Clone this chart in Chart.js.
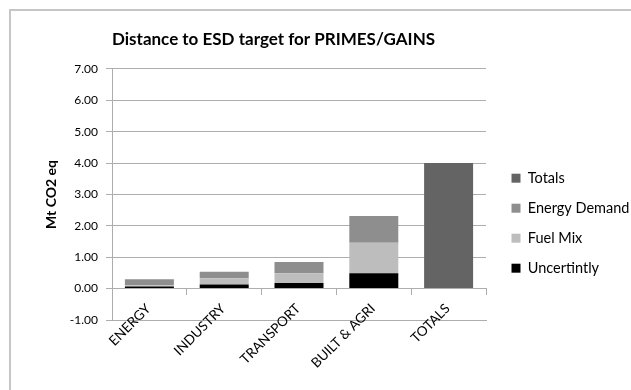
<!DOCTYPE html>
<html>
<head>
<meta charset="utf-8">
<script src="https://cdn.jsdelivr.net/npm/chart.js@4"></script>
<style>
  html, body { margin: 0; padding: 0; background: #fff; }
  #wrap { position: relative; width: 631px; height: 390px; overflow: hidden; }
  #frame { position: absolute; left: 9px; top: 9px; width: 660px; height: 420px;
           border: 2px solid #c6c6c6; box-sizing: border-box; }
  #c { position: absolute; left: 0; top: 0; }
</style>
</head>
<body>
<div id="wrap">
  <div id="frame"></div>
  <canvas id="c" width="631" height="390"></canvas>
</div>
<script>
// Sectors and their stacked contributions (Mt CO2 eq)
const categories   = ['ENERGY', 'INDUSTRY', 'TRANSPORT', 'BUILT & AGRI', 'TOTALS'];
const uncertintly  = [0.07, 0.13, 0.18, 0.49, null];
const fuelMix      = [0.04, 0.20, 0.31, 0.97, null];
const energyDemand = [0.19, 0.21, 0.36, 0.85, null];
const totals       = [null, null, null, null, 4.00];

// Value axis range
const yMin = -1;
const yMax = 7;
const yStep = 1;

const GRID = '#adadad';
const FONT = 'Lato';

Chart.defaults.color = '#000';
Chart.defaults.font.family = FONT;

new Chart(document.getElementById('c'), {
  type: 'bar',
  data: {
    labels: categories,
    datasets: [
      { label: 'Uncertintly',   data: uncertintly,  backgroundColor: '#000000' },
      { label: 'Fuel Mix',      data: fuelMix,      backgroundColor: '#bdbdbd' },
      { label: 'Energy Demand', data: energyDemand, backgroundColor: '#8e8e8e' },
      { label: 'Totals',        data: totals,       backgroundColor: '#646464' }
    ]
  },
  options: {
    responsive: false,
    animation: false,
    devicePixelRatio: 1,
    layout: { padding: { left: 0, right: 0, top: 0, bottom: 0 } },
    datasets: {
      bar: { barPercentage: 0.655, categoryPercentage: 1, borderWidth: 0 }
    },
    plugins: {
      title: {
        display: true,
        text: 'Distance to ESD target for PRIMES/GAINS',
        fullSize: false,
        align: 'start',
        color: '#000',
        font: { family: FONT, size: 17, weight: 'bold', lineHeight: 1.2 },
        padding: { top: 29.5, bottom: 19 }
      },
      legend: {
        position: 'right',
        reverse: true,
        maxWidth: 135,
        title: { display: true, text: '', padding: { top: 0, bottom: 42 } },
        labels: {
          boxWidth: 9,
          boxHeight: 9,
          padding: 15.5,
          color: '#000',
          font: { family: FONT, size: 14.5 }
        }
      },
      tooltip: { enabled: false }
    },
    scales: {
      // bottom edge of the plot (at -1)
      x: {
        stacked: true,
        position: 'bottom',
        grid: { drawOnChartArea: false, drawTicks: false, color: GRID },
        border: { display: true, color: GRID },
        ticks: { display: false },
        afterFit: (s) => { s.height = 70; }
      },
      // category axis crossing the value axis at zero, labels placed low
      xZero: {
        type: 'category',
        axis: 'x',
        position: { y: 0 },
        offset: true,
        grid: { offset: true, drawOnChartArea: false, drawTicks: true, tickLength: 6, color: GRID },
        border: { display: true, color: GRID },
        ticks: {
          autoSkip: false,
          minRotation: 45,
          maxRotation: 45,
          padding: 6,
          labelOffset: -1,
          color: '#000',
          font: { family: FONT, size: 13.5 }
        },
        afterFit: (s) => { s.height = 6; }
      },
      y: {
        stacked: true,
        min: yMin,
        max: yMax,
        position: 'left',
        grid: { color: GRID, tickLength: 6 },
        border: { display: true, color: GRID },
        ticks: {
          stepSize: yStep,
          padding: 8,
          color: '#000',
          font: { family: FONT, size: 12 },
          callback: (v) => Number(v).toFixed(2)
        },
        title: {
          display: true,
          text: 'Mt CO2 eq',
          color: '#000',
          font: { family: FONT, size: 14, weight: 'bold' },
          padding: { top: 43, bottom: 0 }
        },
        afterFit: (s) => { s.width = 112; }
      },
      gap: {
        type: 'linear',
        position: 'right',
        display: true,
        grid: { display: false },
        border: { display: false },
        ticks: { display: false },
        afterFit: (s) => { s.width = 10; }
      }
    }
  }
});
</script>
</body>
</html>
